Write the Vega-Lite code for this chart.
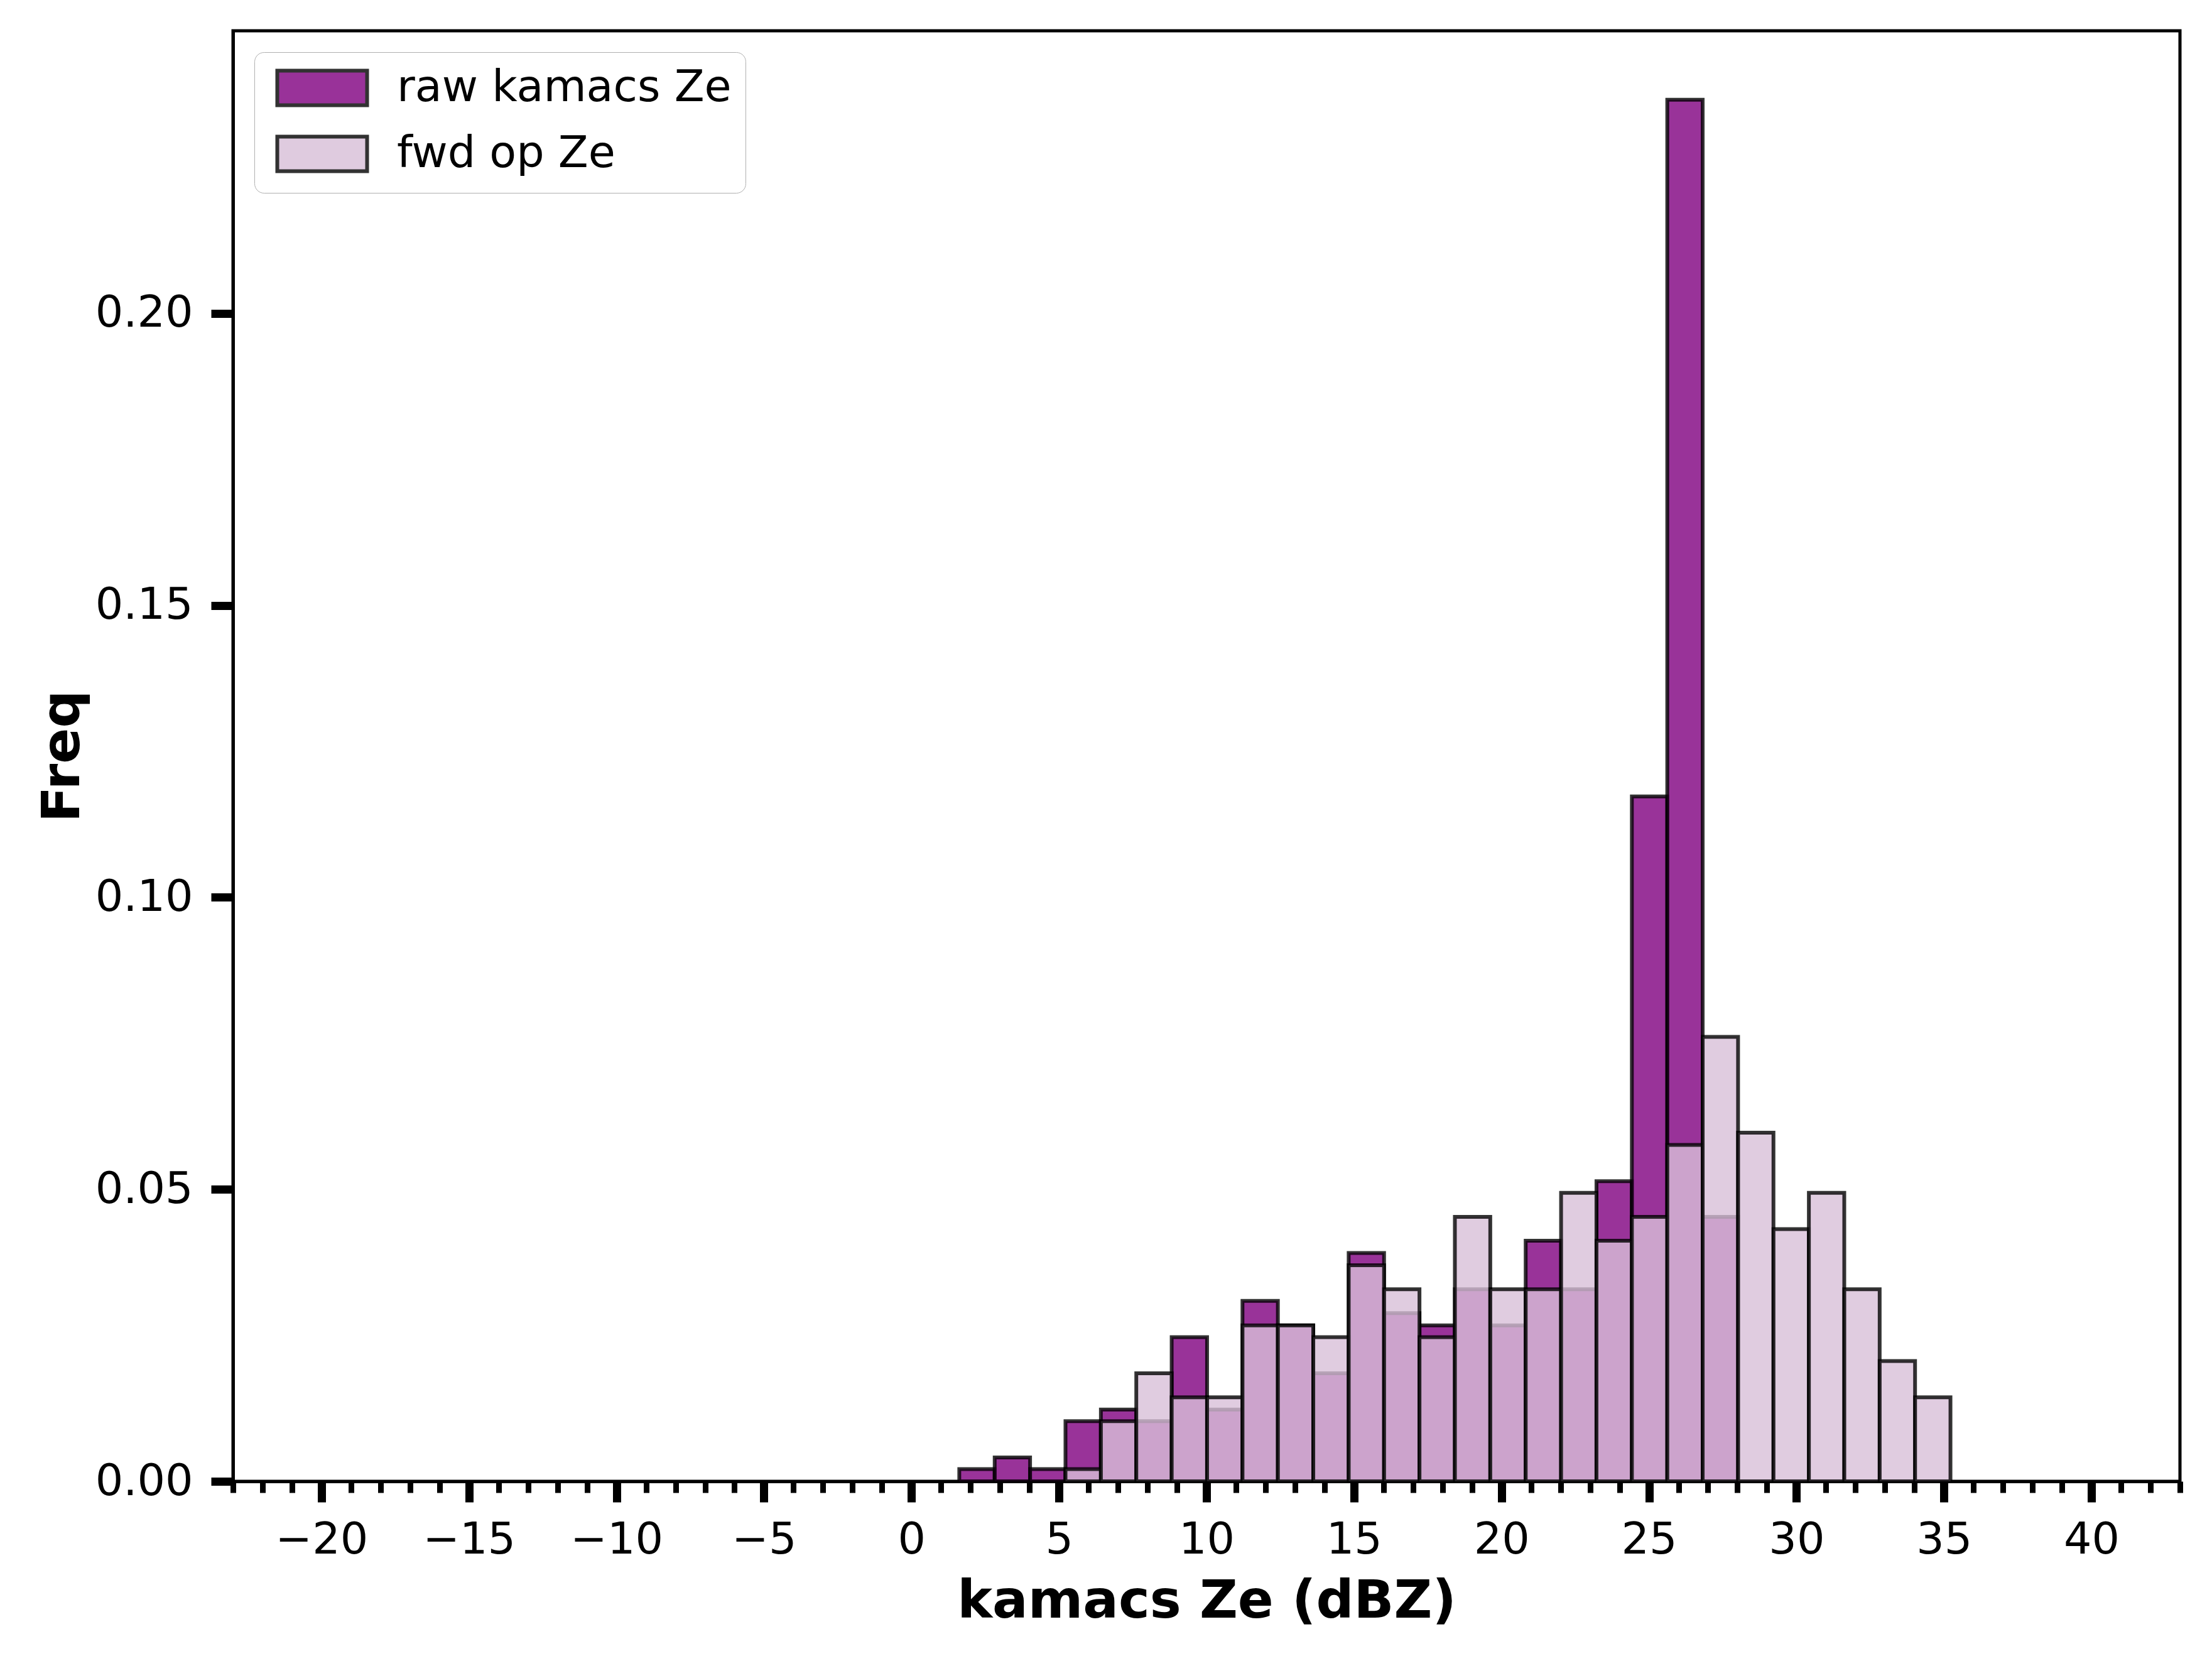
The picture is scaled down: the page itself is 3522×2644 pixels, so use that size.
{
  "$schema": "https://vega.github.io/schema/vega-lite/v6.json",
  "width": 3100,
  "height": 2309,
  "autosize": {"type": "none"},
  "padding": {"left": 371, "top": 49, "right": 51, "bottom": 286},
  "background": "white",
  "data": {
    "values": [
      {"series": "raw kamacs Ze", "lo": 1.62, "hi": 2.82, "freq": 0.0021},
      {"series": "raw kamacs Ze", "lo": 2.82, "hi": 4.02, "freq": 0.0041},
      {"series": "raw kamacs Ze", "lo": 4.02, "hi": 5.22, "freq": 0.0021},
      {"series": "raw kamacs Ze", "lo": 5.22, "hi": 6.42, "freq": 0.0103},
      {"series": "raw kamacs Ze", "lo": 6.42, "hi": 7.62, "freq": 0.0123},
      {"series": "raw kamacs Ze", "lo": 7.62, "hi": 8.82, "freq": 0.0103},
      {"series": "raw kamacs Ze", "lo": 8.82, "hi": 10.02, "freq": 0.0247},
      {"series": "raw kamacs Ze", "lo": 10.02, "hi": 11.22, "freq": 0.0123},
      {"series": "raw kamacs Ze", "lo": 11.22, "hi": 12.42, "freq": 0.0309},
      {"series": "raw kamacs Ze", "lo": 12.42, "hi": 13.62, "freq": 0.0267},
      {"series": "raw kamacs Ze", "lo": 13.62, "hi": 14.82, "freq": 0.0185},
      {"series": "raw kamacs Ze", "lo": 14.82, "hi": 16.02, "freq": 0.0391},
      {"series": "raw kamacs Ze", "lo": 16.02, "hi": 17.22, "freq": 0.0288},
      {"series": "raw kamacs Ze", "lo": 17.22, "hi": 18.42, "freq": 0.0267},
      {"series": "raw kamacs Ze", "lo": 18.42, "hi": 19.62, "freq": 0.0329},
      {"series": "raw kamacs Ze", "lo": 19.62, "hi": 20.82, "freq": 0.0267},
      {"series": "raw kamacs Ze", "lo": 20.82, "hi": 22.02, "freq": 0.0412},
      {"series": "raw kamacs Ze", "lo": 22.02, "hi": 23.22, "freq": 0.0329},
      {"series": "raw kamacs Ze", "lo": 23.22, "hi": 24.42, "freq": 0.0514},
      {"series": "raw kamacs Ze", "lo": 24.42, "hi": 25.62, "freq": 0.1173},
      {"series": "raw kamacs Ze", "lo": 25.62, "hi": 26.82, "freq": 0.2366},
      {"series": "raw kamacs Ze", "lo": 26.82, "hi": 28.02, "freq": 0.0453},
      {"series": "fwd op Ze", "lo": 5.22, "hi": 6.42, "freq": 0.0021},
      {"series": "fwd op Ze", "lo": 6.42, "hi": 7.62, "freq": 0.0103},
      {"series": "fwd op Ze", "lo": 7.62, "hi": 8.82, "freq": 0.0185},
      {"series": "fwd op Ze", "lo": 8.82, "hi": 10.02, "freq": 0.0144},
      {"series": "fwd op Ze", "lo": 10.02, "hi": 11.22, "freq": 0.0144},
      {"series": "fwd op Ze", "lo": 11.22, "hi": 12.42, "freq": 0.0267},
      {"series": "fwd op Ze", "lo": 12.42, "hi": 13.62, "freq": 0.0267},
      {"series": "fwd op Ze", "lo": 13.62, "hi": 14.82, "freq": 0.0247},
      {"series": "fwd op Ze", "lo": 14.82, "hi": 16.02, "freq": 0.0370},
      {"series": "fwd op Ze", "lo": 16.02, "hi": 17.22, "freq": 0.0329},
      {"series": "fwd op Ze", "lo": 17.22, "hi": 18.42, "freq": 0.0247},
      {"series": "fwd op Ze", "lo": 18.42, "hi": 19.62, "freq": 0.0453},
      {"series": "fwd op Ze", "lo": 19.62, "hi": 20.82, "freq": 0.0329},
      {"series": "fwd op Ze", "lo": 20.82, "hi": 22.02, "freq": 0.0329},
      {"series": "fwd op Ze", "lo": 22.02, "hi": 23.22, "freq": 0.0494},
      {"series": "fwd op Ze", "lo": 23.22, "hi": 24.42, "freq": 0.0412},
      {"series": "fwd op Ze", "lo": 24.42, "hi": 25.62, "freq": 0.0453},
      {"series": "fwd op Ze", "lo": 25.62, "hi": 26.82, "freq": 0.0576},
      {"series": "fwd op Ze", "lo": 26.82, "hi": 28.02, "freq": 0.0761},
      {"series": "fwd op Ze", "lo": 28.02, "hi": 29.22, "freq": 0.0597},
      {"series": "fwd op Ze", "lo": 29.22, "hi": 30.42, "freq": 0.0432},
      {"series": "fwd op Ze", "lo": 30.42, "hi": 31.62, "freq": 0.0494},
      {"series": "fwd op Ze", "lo": 31.62, "hi": 32.82, "freq": 0.0329},
      {"series": "fwd op Ze", "lo": 32.82, "hi": 34.02, "freq": 0.0206},
      {"series": "fwd op Ze", "lo": 34.02, "hi": 35.22, "freq": 0.0144}
    ]
  },
  "layer": [
    {
      "mark": {"type": "bar", "stroke": "black", "strokeWidth": 6, "strokeOpacity": 0.8, "fillOpacity": 0.8},
      "encoding": {
        "x": {
          "field": "lo",
          "type": "quantitative",
          "scale": {"domain": [-23, 43], "nice": false, "zero": false},
          "axis": {
            "orient": "bottom",
            "values": [-20, -15, -10, -5, 0, 5, 10, 15, 20, 25, 30, 35, 40],
            "format": "d",
            "tickSize": 33,
            "tickWidth": 13,
            "labelPadding": 26,
            "title": "kamacs Ze (dBZ)",
            "titlePadding": 22
          }
        },
        "x2": {"field": "hi"},
        "y": {
          "field": "freq",
          "type": "quantitative",
          "stack": null,
          "scale": {"domain": [0, 0.2484], "nice": false},
          "axis": {
            "values": [0, 0.05, 0.1, 0.15, 0.2],
            "format": ".2f",
            "tickSize": 35,
            "tickWidth": 13,
            "labelPadding": 29,
            "title": "Freq",
            "titlePadding": 28
          }
        },
        "y2": {"datum": 0},
        "color": {
          "field": "series",
          "type": "nominal",
          "scale": {"domain": ["raw kamacs Ze", "fwd op Ze"], "range": ["purple", "thistle"]},
          "legend": {
            "orient": "top-left",
            "offset": 34,
            "title": null,
            "symbolType": "M-2.6,-1H2.6V1H-2.6Z",
            "symbolSize": 3025,
            "symbolStrokeColor": "black",
            "symbolStrokeWidth": 6,
            "symbolOpacity": 0.8,
            "symbolOffset": 51,
            "labelOffset": 84,
            "labelFontSize": 70,
            "labelFont": "DejaVu Sans",
            "labelColor": "black",
            "labelLimit": 1000,
            "rowPadding": 25,
            "padding": 22,
            "fillColor": "white",
            "strokeColor": "#b0b0b0",
            "cornerRadius": 15
          }
        }
      }
    },
    {
      "mark": {"type": "point", "opacity": 0},
      "encoding": {
        "x": {
          "field": "lo",
          "type": "quantitative",
          "axis": {
            "orient": "bottom",
            "values": [-23, -22, -21, -19, -18, -17, -16, -14, -13, -12, -11, -9, -8, -7, -6, -4, -3, -2, -1, 1, 2, 3, 4, 6, 7, 8, 9, 11, 12, 13, 14, 16, 17, 18, 19, 21, 22, 23, 24, 26, 27, 28, 29, 31, 32, 33, 34, 36, 37, 38, 39, 41, 42, 43],
            "tickSize": 18,
            "tickWidth": 9,
            "labels": false,
            "domain": false,
            "title": null
          }
        }
      }
    }
  ],
  "resolve": {"axis": {"x": "independent"}},
  "config": {
    "view": {"stroke": "black", "strokeWidth": 5},
    "font": "DejaVu Sans",
    "axis": {
      "grid": false,
      "domainColor": "black",
      "domainWidth": 5,
      "tickColor": "black",
      "labelColor": "black",
      "labelFont": "DejaVu Sans",
      "labelFontSize": 70,
      "titleFont": "DejaVu Sans",
      "titleFontSize": 84,
      "titleFontWeight": "bold",
      "titleColor": "black"
    }
  }
}
